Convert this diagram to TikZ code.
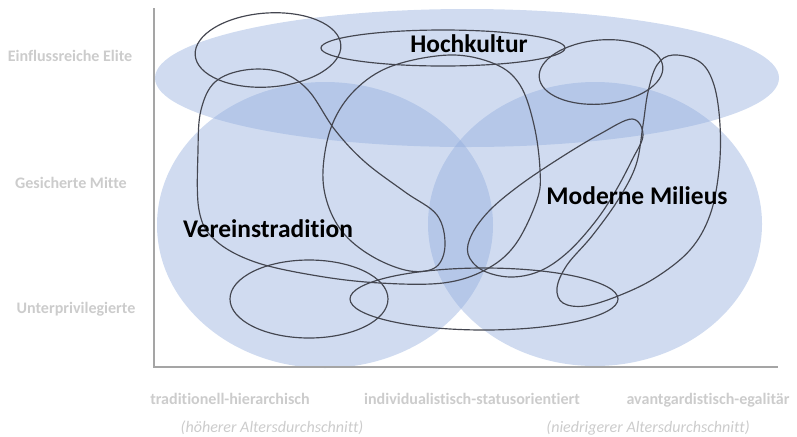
\documentclass[tikz,border=0pt]{standalone}
\usepackage{fontspec}
\setmainfont{Carlito}[Ligatures=NoCommon]
\definecolor{fieldblue}{RGB}{143,170,220}
\definecolor{labelgray}{RGB}{204,204,204}
\definecolor{axisgray}{RGB}{165,165,165}
\definecolor{loopgray}{RGB}{68,70,80}
\begin{document}
\begin{tikzpicture}[
    x=0.03cm, y=-0.03cm,
    field/.style={fill=fieldblue, fill opacity=0.42},
    axisline/.style={draw=axisgray, line width=1.1pt},
    milieu/.style={draw=loopgray, line width=1pt},
    level/.style={text=labelgray, font=\fontsize{13.7}{16}\selectfont\bfseries, inner sep=0pt},
    note/.style={text=labelgray, font=\fontsize{13.7}{16}\selectfont\itshape, inner sep=0pt},
    cluster/.style={text=black, font=\fontsize{21.7}{26}\selectfont\bfseries, inner sep=0pt}
]
    \useasboundingbox (0,0) rectangle (797,436);

    % Social fields
    \fill[field] (467,78) ellipse [x radius=312, y radius=69];
    \fill[field] (325,225) ellipse [x radius=168, y radius=143];
    \fill[field] (595,224) ellipse [x radius=167, y radius=142];

    % Axes
    \coordinate (top) at (154,8);
    \coordinate (origin) at (154,367);
    \coordinate (right) at (778,367);
    \draw[axisline] (top) -- (origin) -- (right);

    % Milieus as ellipses
    \draw[milieu, rotate around={4:(268,50)}] (268,50) ellipse [x radius=73, y radius=37];
    \draw[milieu] (443,48) ellipse [x radius=122, y radius=18];
    \draw[milieu, rotate around={5:(601,72)}] (601,72) ellipse [x radius=62, y radius=32];
    \draw[milieu] (309,299) ellipse [x radius=79, y radius=39];
    \draw[milieu] (484,299) ellipse [x radius=134, y radius=31];

    % Milieus as free loops
    \draw[milieu] plot[smooth cycle, tension=0.6] coordinates {
        (198,150) (201,110) (215,82) (245,70) (280,72) (308,90) (335,130)
        (365,162) (405,192) (437,215) (445,245) (436,267) (410,271)
        (375,258) (345,235) (328,205) (323,170) (332,125) (355,90)
        (392,66) (450,55) (495,64) (520,85) (534,125) (540,170) (537,200)
        (515,245) (485,270) (443,283) (380,283) (318,276) (255,262)
        (215,240) (199,210)};
    \draw[milieu] plot[smooth cycle, tension=0.6] coordinates {
        (632,119) (600,134) (560,158) (520,185) (490,210) (472,234)
        (468,254) (482,270) (510,277) (540,271) (568,252) (595,222)
        (615,192) (632,160) (643,135)};
    \draw[milieu] plot[smooth cycle, tension=0.6] coordinates {
        (673,55) (700,62) (714,85) (720,125) (719,170) (710,215)
        (690,250) (655,278) (618,296) (585,306) (563,303) (557,288)
        (567,265) (592,236) (618,200) (636,165) (643,125) (648,92)
        (657,65)};

    % Milieu names
    \node[cluster] (hoch) at (469,44) {Hochkultur};
    \node[cluster] (modern) at (637,196) {Moderne Milieus};
    \node[cluster] (verein) at (268,229) {Vereinstradition};

    % Vertical axis labels
    \node[level] (elite) at (70,56) {Einflussreiche Elite};
    \node[level] (mitte) at (71,183) {Gesicherte Mitte};
    \node[level] (unter) at (76,309) {Unterprivilegierte};

    % Horizontal axis labels
    \node[level] (trad) at (230,399) {traditionell-hierarchisch};
    \node[level] (indiv) at (472,399) {individualistisch-statusorientiert};
    \node[level] (avant) at (708,400) {avantgardistisch-egalitär};
    \node[note] (alt) at (272,428) {(höherer Altersdurchschnitt)};
    \node[note] (jung) at (648,428) {(niedrigerer Altersdurchschnitt)};
\end{tikzpicture}
\end{document}
